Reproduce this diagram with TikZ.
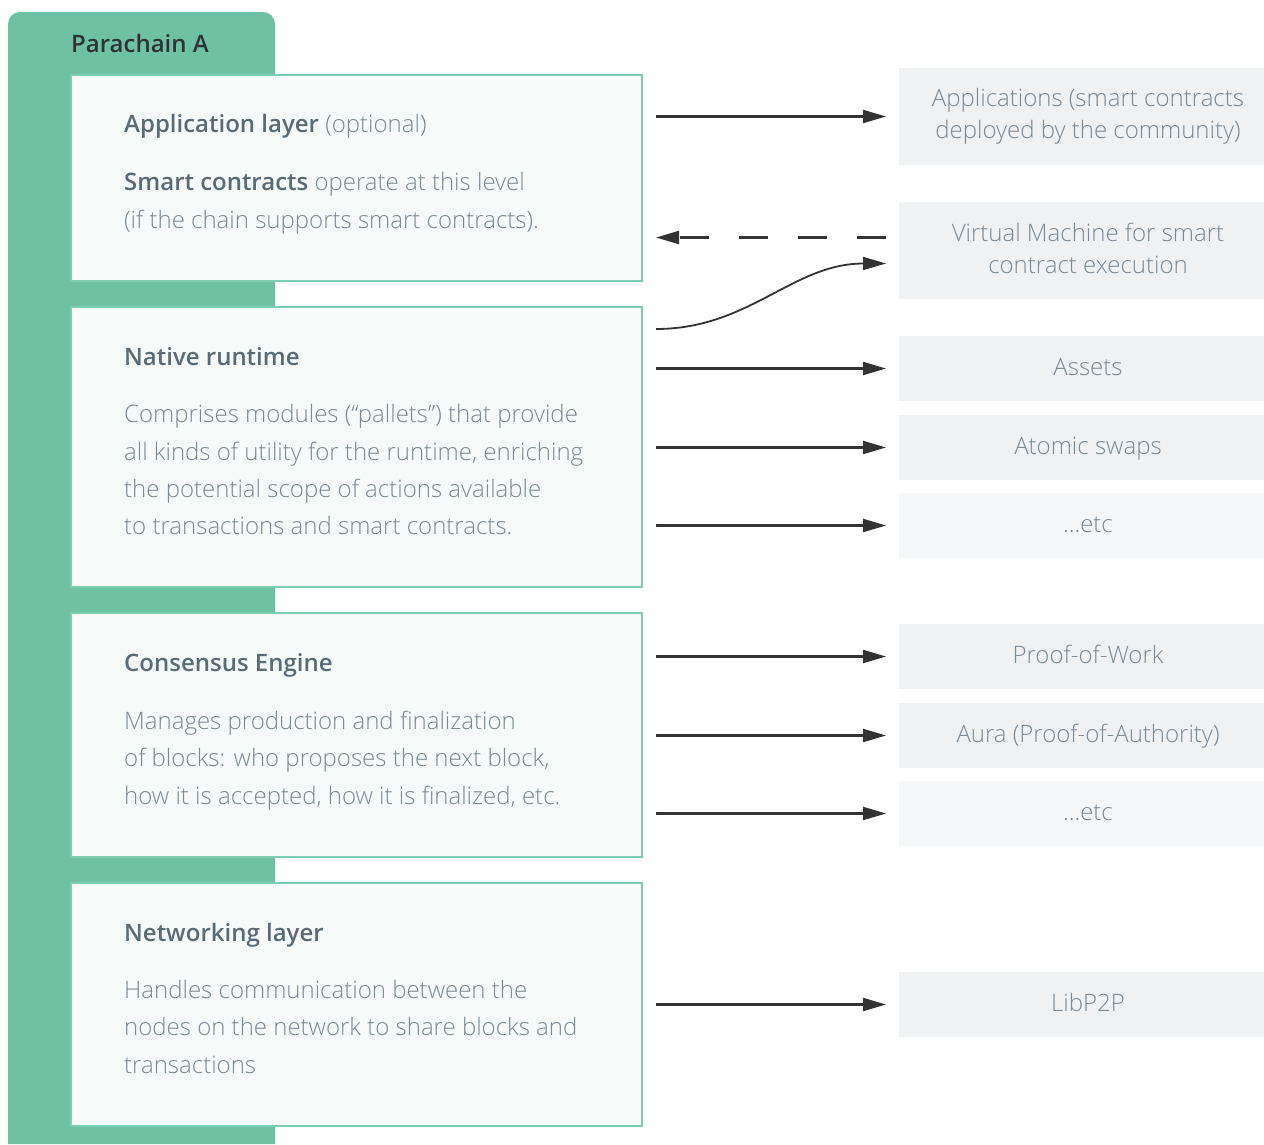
\documentclass[tikz,border=0pt]{standalone}
\usepackage{fontspec}
\setmainfont{Open Sans}
\newfontfamily\lightf{Open Sans Light}
\newfontfamily\semif{Open Sans Semibold}
\usetikzlibrary{arrows.meta}
\definecolor{panelgreen}{HTML}{6FC1A4}
\definecolor{layerfill}{HTML}{F6FAF9}
\definecolor{layerline}{HTML}{7ECDB2}
\definecolor{rfill}{HTML}{EFF1F3}
\definecolor{rfilllight}{HTML}{F6F7F8}
\definecolor{headcol}{HTML}{5B6B75}
\definecolor{bodycol}{HTML}{7C8A94}
\definecolor{titlecol}{HTML}{2E3436}
\definecolor{arrcol}{HTML}{333333}
\tikzset{
  layerbox/.style={draw=layerline, line width=1.3pt, fill=layerfill, inner sep=0pt, outer sep=0pt, minimum width=571pt, anchor=north west},
  rbox/.style={fill=rfill, inner sep=0pt, outer sep=0pt, minimum width=378pt, anchor=north west, align=center, text=bodycol, font=\lightf\fontsize{24pt}{32pt}\selectfont},
  rboxone/.style={rbox, text height=13pt, text depth=0pt},
  headtxt/.style={anchor=base west, inner sep=0pt, text=headcol, font=\semif\fontsize{24pt}{37.5pt}\selectfont},
  bodytxt/.style={anchor=base west, inner sep=0pt, text=bodycol, align=left, font=\lightf\fontsize{24pt}{37.5pt}\selectfont},
  arr/.style={draw=arrcol, line width=2.1pt, -{Triangle[length=23pt,width=13pt]}, shorten <=14pt, shorten >=13pt},
  dasharr/.style={draw=arrcol, line width=2.1pt, -{Triangle[length=23pt,width=13pt]}, dash pattern=on 29.5pt off 29.5pt},
  curvarr/.style={draw=arrcol, line width=1.8pt, -{Triangle[length=23pt,width=13pt]}},
}
\begin{document}
\begin{tikzpicture}[x=1pt,y=-1pt]
\useasboundingbox (0,0) rectangle (1264,1144);
% green panel
\fill[panelgreen, rounded corners=12pt] (8,1144) -- (8,12) -- (275,12) -- (275,1144);
\node[anchor=base west, inner sep=0pt, text=titlecol, font=\semif\fontsize{24pt}{30pt}\selectfont] (title) at (71,52) {Parachain A};

% layer boxes
\node[layerbox, minimum height=206pt] (app) at (71,75) {};
\node[layerbox, minimum height=280pt] (native) at (71,307) {};
\node[layerbox, minimum height=244pt] (cons) at (71,613) {};
\node[layerbox, minimum height=243pt] (net) at (71,883) {};

% layer texts
\node[headtxt] (apph) at (124,132) {Application layer {\lightf\color{bodycol}(optional)}};
\node[bodytxt] (appb1) at (124,190) {{\semif\color{headcol}Smart contracts} operate at this level};
\node[bodytxt] (appb2) at (124,228) {(if the chain supports smart contracts).};

\node[headtxt] (nath) at (124,365) {Native runtime};
\node[bodytxt] (natb1) at (124,422) {Comprises modules (“pallets”) that provide};
\node[bodytxt] (natb2) at (124,460) {all kinds of utility for the runtime, enriching};
\node[bodytxt] (natb3) at (124,497) {the potential scope of actions available};
\node[bodytxt] (natb4) at (124,534) {to transactions and smart contracts.};

\node[headtxt] (consh) at (124,671) {Consensus Engine};
\node[bodytxt] (consb1) at (124,729) {Manages production and finalization};
\node[bodytxt] (consb2) at (124,766) {of blocks: who proposes the next block,};
\node[bodytxt] (consb3) at (124,804) {how it is accepted, how it is finalized, etc.};

\node[headtxt] (neth) at (124,941) {Networking layer};
\node[bodytxt] (netb1) at (124,998) {Handles communication between the};
\node[bodytxt] (netb2) at (124,1035) {nodes on the network to share blocks and};
\node[bodytxt] (netb3) at (124,1073) {transactions};

% right boxes
\node[rbox, minimum height=97pt] (r1) at (899,68) {Applications (smart contracts\\deployed by the community)};
\node[rbox, minimum height=97pt] (r2) at (899,202) {\vphantom{()}Virtual Machine for smart\\\vphantom{()}contract execution};
\node[rboxone, minimum height=65pt] (r3) at (899,336) {Assets};
\node[rboxone, minimum height=65pt] (r4) at (899,415) {Atomic swaps};
\node[rboxone, minimum height=65pt, fill=rfilllight] (r5) at (899,493) {...etc};
\node[rboxone, minimum height=65pt] (r6) at (899,624) {Proof-of-Work};
\node[rboxone, minimum height=65pt] (r7) at (899,703) {Aura (Proof-of-Authority)};
\node[rboxone, minimum height=65pt, fill=rfilllight] (r8) at (899,781) {...etc};
\node[rboxone, minimum height=65pt] (r9) at (899,972) {LibP2P};

% connectors
\draw[arr] (app.east |- r1.west) -- (r1.west);
\coordinate (dashR) at ([xshift=-13pt,yshift=13pt]r2.west);
\coordinate (dashL) at ([xshift=14pt]dashR -| app.east);
\draw[dasharr] (dashR) -- (dashL);
\coordinate (cvS) at ([xshift=14pt,yshift=-22pt]native.north east);
\coordinate (cvE) at ([xshift=-13pt,yshift=-13pt]r2.west);
\draw[curvarr] (cvS) to[out=0,in=180] (cvE);
\draw[arr] (native.east |- r3.west) -- (r3.west);
\draw[arr] (native.east |- r4.west) -- (r4.west);
\draw[arr] (native.east |- r5.west) -- (r5.west);
\draw[arr] (cons.east |- r6.west) -- (r6.west);
\draw[arr] (cons.east |- r7.west) -- (r7.west);
\draw[arr] (cons.east |- r8.west) -- (r8.west);
\draw[arr] (net.east |- r9.west) -- (r9.west);
\end{tikzpicture}
\end{document}
